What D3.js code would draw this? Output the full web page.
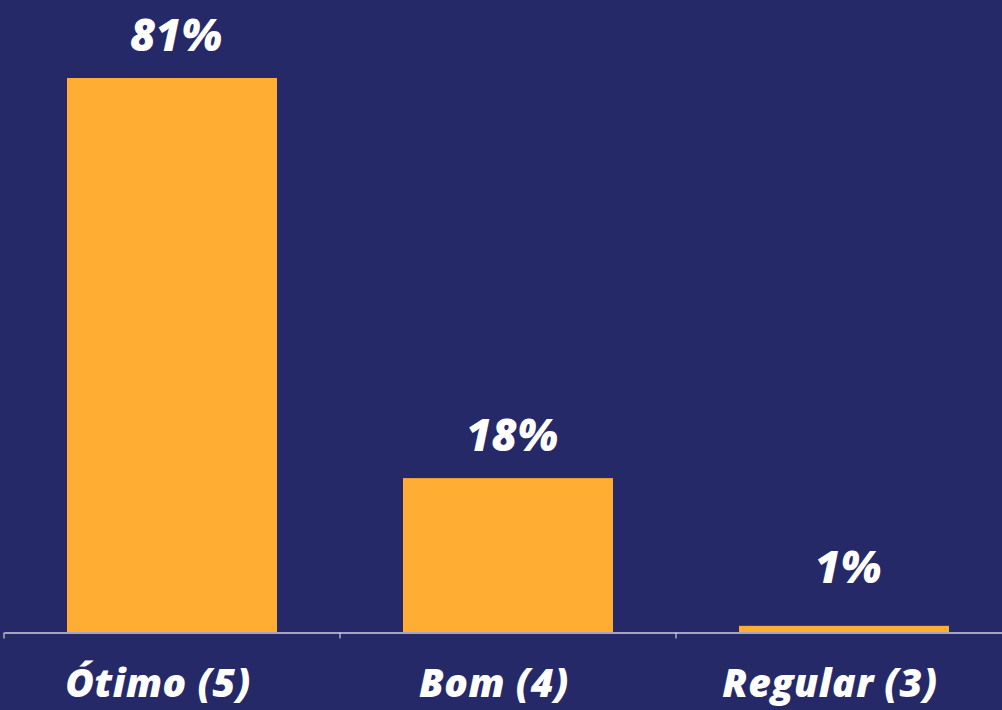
<!DOCTYPE html>
<html><head><meta charset="utf-8">
<script src="https://cdn.jsdelivr.net/npm/d3@7"></script>
<style>
html,body{margin:0;padding:0;background:#262968;}
svg{display:block;}
text{font-family:"Open Sans","DejaVu Sans",sans-serif;font-style:italic;font-weight:800;fill:#fff;}
</style></head>
<body>
<svg id="chart" width="1002" height="710"></svg>
<script>
const categories = ["Ótimo (5)", "Bom (4)", "Regular (3)"];
const barValues = [81, 22.5, 0.9];
const valueLabels = ["81%", "18%", "1%"];

const W = 1002, H = 710;
const svg = d3.select("#chart");
svg.append("rect").attr("width", W).attr("height", H).attr("fill", "#262968");

const x = d3.scaleBand().domain(categories).range([4, 1012]).paddingInner(0.375).paddingOuter(0.1875);
const y = d3.scaleLinear().domain([0, 81]).range([632, 78]);

svg.selectAll("rect.bar").data(categories).enter().append("rect")
  .attr("class", "bar")
  .attr("x", d => x(d))
  .attr("width", x.bandwidth())
  .attr("y", (d, i) => y(barValues[i]))
  .attr("height", (d, i) => y(0) - y(barValues[i]))
  .attr("fill", "#FFAD33");

const axis = d3.axisBottom(x).tickSize(6).tickSizeOuter(0).tickFormat("");
const gx = svg.append("g").attr("transform", "translate(0,632.5)").call(axis);
gx.select(".domain").attr("stroke", "#cfcfd8").attr("stroke-width", 1.5);
gx.selectAll(".tick line").attr("stroke", "#cfcfd8").attr("stroke-width", 1.2);
// tick marks sit at band boundaries
gx.selectAll(".tick").attr("transform", d => `translate(${x(d) - (x.step() - x.bandwidth())/2},0)`);

svg.selectAll("text.val").data(valueLabels).enter().append("text")
  .attr("class", "val")
  .attr("x", (d, i) => x(categories[i]) + x.bandwidth() / 2 + 4)
  .attr("y", (d, i) => Math.min(y(barValues[i]) - 27, y(0) - 49))
  .attr("text-anchor", "middle")
  .attr("font-size", 44)
  .text(d => d);

svg.selectAll("text.cat").data(categories).enter().append("text")
  .attr("class", "cat")
  .attr("x", d => x(d) + x.bandwidth() / 2 - 14)
  .attr("y", 697)
  .attr("text-anchor", "middle")
  .attr("font-size", 39)
  .attr("letter-spacing", 0.5)
  .text(d => d);
</script>
</body></html>
